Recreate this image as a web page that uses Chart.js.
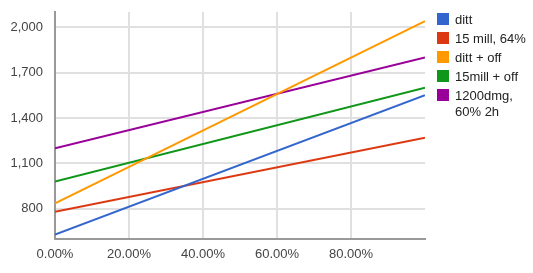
<!DOCTYPE html>
<html>
<head>
<meta charset="utf-8">
<script src="https://cdn.jsdelivr.net/npm/chart.js@4.4.1/dist/chart.umd.min.js"></script>
<style>
  html, body { margin: 0; padding: 0; background: #fff; }
  #wrap { position: relative; width: 533px; height: 273px; }
  #legend { position: absolute; left: 437px; top: 12px; width: 94px; font: 13px Arial, 'Liberation Sans', sans-serif; color: #222; }
  .item { display: flex; align-items: flex-start; margin-bottom: 3px; line-height: 16px; }
  .box { width: 12px; height: 12px; margin-top: 1px; margin-right: 6px; flex: none; }
</style>
</head>
<body>
<div id="wrap">
  <canvas id="myChart" width="533" height="273"></canvas>
  <div id="legend"></div>
</div>
<script>
// data
const x_vals = [0, 1]
const ditt = [630, 1550]
const mill15 = [780, 1270]
const ditt_off = [835, 2040]
const mill15_off = [980, 1600]
const dmg1200 = [1200, 1800]
const series_names = ['ditt', '15 mill, 64%', 'ditt + off', '15mill + off', '1200dmg, 60% 2h']
const series_colors = ['#3366cc', '#dc3912', '#ff9900', '#109618', '#990099']
const y_ticks = [800, 1100, 1400, 1700, 2000]
const x_ticks = [0, 0.2, 0.4, 0.6, 0.8]

const all_series = [ditt, mill15, ditt_off, mill15_off, dmg1200]
const datasets = all_series.map((vals, i) => ({
  label: series_names[i],
  data: vals.map((v, j) => ({ x: x_vals[j], y: v })),
  borderColor: series_colors[i],
  backgroundColor: series_colors[i],
  borderWidth: 2,
  pointRadius: 0,
  tension: 0
}))

const font = { family: "Arial, 'Liberation Sans', sans-serif", size: 13 }

const ctx = document.getElementById('myChart').getContext('2d')
const chart = new Chart(ctx, {
  type: 'line',
  data: { datasets: datasets },
  options: {
    responsive: false,
    animation: false,
    layout: { padding: { left: 0, right: 108, top: 12, bottom: 0 } },
    plugins: { legend: { display: false }, tooltip: { enabled: false } },
    scales: {
      x: {
        type: 'linear',
        min: 0,
        max: 1,
        afterBuildTicks: s => { s.ticks = x_ticks.map(v => ({ value: v })) },
        afterFit: s => { s.height = 34; s.paddingLeft = 0; s.paddingRight = 0 },
        ticks: {
          padding: 8,
          color: '#444',
          font: font,
          maxRotation: 0,
          callback: v => (v * 100).toFixed(2) + '%'
        },
        grid: { color: '#e0e0e0', lineWidth: 2, drawTicks: false },
        border: { color: '#999', width: 2 }
      },
      y: {
        min: 600,
        max: 2100,
        afterBuildTicks: s => { s.ticks = y_ticks.map(v => ({ value: v })) },
        afterFit: s => { s.width = 55; s.paddingTop = 0; s.paddingBottom = 0 },
        ticks: {
          padding: 12,
          color: '#444',
          font: font,
          callback: v => v.toLocaleString('en-US')
        },
        grid: { color: '#e0e0e0', lineWidth: 2, drawTicks: false },
        border: { color: '#999', width: 2 }
      }
    }
  }
})

// html legend
const legend = document.getElementById('legend')
series_names.forEach((name, i) => {
  const item = document.createElement('div')
  item.setAttribute('class', 'item')
  const box = document.createElement('span')
  box.setAttribute('class', 'box')
  box.style.background = series_colors[i]
  const txt = document.createElement('span')
  txt.textContent = name
  item.appendChild(box)
  item.appendChild(txt)
  legend.appendChild(item)
})
</script>
</body>
</html>
